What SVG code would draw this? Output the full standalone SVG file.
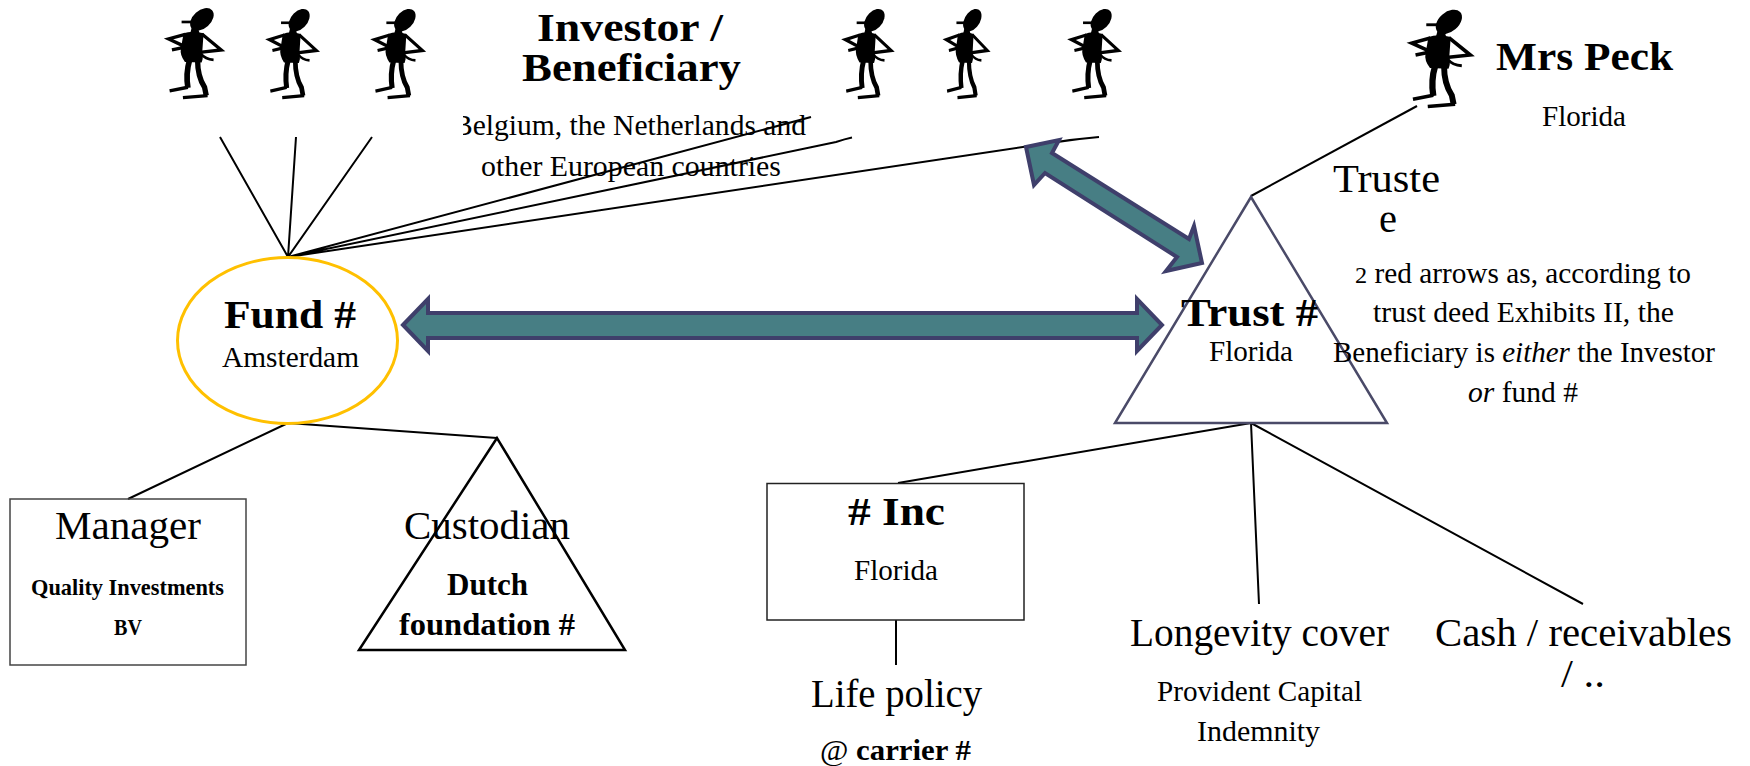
<svg xmlns="http://www.w3.org/2000/svg" xmlns:xlink="http://www.w3.org/1999/xlink" width="1750" height="766" viewBox="0 0 1750 766">
<style>
text{font-family:"Liberation Serif","Times New Roman",serif;fill:#000}
.b{font-weight:bold}
.xl{font-size:41px}
.l{font-size:40px}
.m{font-size:29px}
.mb{font-size:31px;font-weight:bold}
.s{font-size:23px;font-weight:bold}
.c{fill:none;stroke:#000;stroke-width:2}
.arrow{fill:#477E84;stroke:#3F3F6B;stroke-width:4;stroke-linejoin:miter}
</style>
<defs>
<clipPath id="clipBelgium"><rect x="463" y="100" width="360" height="50"/></clipPath>
<filter id="soft" x="-10%" y="-10%" width="120%" height="120%"><feGaussianBlur stdDeviation="1.4"/></filter>
<g id="person" filter="url(#soft)">
<ellipse cx="185" cy="58" rx="41" ry="27" transform="rotate(-42 185 58)" fill="#000"/>
<path d="M124 62H158V70H124Z" fill="#000"/>
<path d="M155 80L172 80L178 100L150 100Z" fill="#000"/>
<path d="M130 100Q155 90 190 100L186 158Q190 175 184 188L134 186Q118 165 122 145Z" fill="#000"/>
<path d="M135 103L85 117L128 137M128 143L95 150" fill="none" stroke="#000" stroke-width="10"/>
<path d="M185 102L243 150L178 157" fill="none" stroke="#000" stroke-width="10"/>
<path d="M182 162Q195 178 220 180" fill="none" stroke="#000" stroke-width="8"/>
<path d="M148 180Q136 220 143 264" fill="none" stroke="#000" stroke-width="17"/>
<path d="M172 180Q172 230 193 262L198 287" fill="none" stroke="#000" stroke-width="16"/>
<path d="M143 262L88 273M202 287L128 293" fill="none" stroke="#000" stroke-width="10"/>
</g>
</defs>
<rect width="1750" height="766" fill="#fff"/>
<g id="node-investors-left">
<use xlink:href="#person" href="#person" transform="translate(140.3 0) scale(.333)"/>
<use xlink:href="#person" href="#person" transform="translate(244.2 1) scale(.297 .33)"/>
<use xlink:href="#person" href="#person" transform="translate(348.8 1) scale(.303 .33)"/>
</g>
<g id="node-investors-right">
<use xlink:href="#person" href="#person" transform="translate(820.7 1) scale(.29 .33)"/>
<use xlink:href="#person" href="#person" transform="translate(924.2 1) scale(.26 .33)"/>
<use xlink:href="#person" href="#person" transform="translate(1046.2 1) scale(.297 .33)"/>
</g>
<g id="node-mrs-peck">
<use xlink:href="#person" href="#person" transform="translate(1380.4 1) scale(.37 .36)"/>
<text class="xl b" x="1496" y="70" textLength="177" lengthAdjust="spacingAndGlyphs">Mrs Peck</text>
<text class="m" x="1542" y="126" textLength="84" lengthAdjust="spacingAndGlyphs">Florida</text>
</g>
<g id="node-investor-label">
<text class="xl b" x="537" y="41" textLength="186" lengthAdjust="spacingAndGlyphs">Investor /</text>
<text class="xl b" x="522" y="81" textLength="219" lengthAdjust="spacingAndGlyphs">Beneficiary</text>
<g clip-path="url(#clipBelgium)"><text class="m" x="453" y="135" textLength="353" lengthAdjust="spacingAndGlyphs">Belgium, the Netherlands and</text></g>
<text class="m" x="481" y="176" textLength="300" lengthAdjust="spacingAndGlyphs">other European countries</text>
</g>
<g id="connectors">
<path class="c" d="M288 257L220 137M288 257L296 137M288 257L372 137"/>
<path class="c" d="M288 257L811 117M288 257L836 142Q845 139 852 137.5M288 257L1050 143Q1075 139 1099 137"/>
<path class="c" d="M288 423L128 499M288 423L497 438"/>
<path class="c" d="M1251 196L1417 106"/>
<path class="c" d="M1251 423L898 483M1251 423L1259 604M1251 423L1583 604"/>
<path class="c" d="M896 620V665" stroke-width="1.5"/>
</g>
<g id="node-arrow-horizontal">
<polygon class="arrow" points="403,325 428,299 428,313 1137,313 1137,299 1162,325 1137,351 1137,338 428,338 428,351"/>
</g>
<g id="node-arrow-diagonal">
<polygon class="arrow" points="1026,147 1059,140 1052,153 1189,239 1194,226 1202,263 1166,271 1177,257 1045,173 1034,185"/>
</g>
<g id="node-fund">
<ellipse cx="287.5" cy="340.5" rx="110" ry="83" fill="none" stroke="#FFC000" stroke-width="3"/>
<text class="xl b" x="224" y="328" textLength="132" lengthAdjust="spacingAndGlyphs">Fund #</text>
<text class="m" x="222" y="367" textLength="137" lengthAdjust="spacingAndGlyphs">Amsterdam</text>
</g>
<g id="node-trust">
<polygon points="1251,197 1115,423 1387,423" fill="none" stroke="#4A4A68" stroke-width="2.5"/>
<text class="xl b" x="1181" y="326" textLength="137" lengthAdjust="spacingAndGlyphs">Trust #</text>
<text class="m" x="1209" y="361" textLength="84" lengthAdjust="spacingAndGlyphs">Florida</text>
</g>
<g id="node-trustee">
<text class="l" x="1333" y="192" textLength="107" lengthAdjust="spacingAndGlyphs">Truste</text>
<text class="l" x="1379" y="232" textLength="18" lengthAdjust="spacingAndGlyphs">e</text>
</g>
<g id="node-note">
<text class="m" x="1355" y="283" textLength="336" lengthAdjust="spacingAndGlyphs"><tspan font-size="24">2</tspan> red arrows as, according to</text>
<text class="m" x="1373" y="322" textLength="301" lengthAdjust="spacingAndGlyphs">trust deed Exhibits II, the</text>
<text class="m" x="1333" y="362" textLength="382" lengthAdjust="spacingAndGlyphs">Beneficiary is <tspan font-style="italic">either</tspan> the Investor</text>
<text class="m" x="1468" y="402" textLength="110" lengthAdjust="spacingAndGlyphs"><tspan font-style="italic">or</tspan> fund #</text>
</g>
<g id="node-manager">
<rect x="10" y="499" width="236" height="166" fill="none" stroke="#444" stroke-width="1.5"/>
<text class="l" x="55" y="539" textLength="146" lengthAdjust="spacingAndGlyphs">Manager</text>
<text class="s" x="31" y="595" textLength="193" lengthAdjust="spacingAndGlyphs">Quality Investments</text>
<text class="s" x="114" y="635" textLength="28" lengthAdjust="spacingAndGlyphs">BV</text>
</g>
<g id="node-custodian">
<polygon points="497,438 359,650 625,650" fill="none" stroke="#000" stroke-width="2.5"/>
<text class="l" x="404" y="539" textLength="166" lengthAdjust="spacingAndGlyphs">Custodian</text>
<text class="mb" x="447" y="595" textLength="81" lengthAdjust="spacingAndGlyphs">Dutch</text>
<text class="mb" x="399" y="635" textLength="176" lengthAdjust="spacingAndGlyphs">foundation #</text>
</g>
<g id="node-inc">
<rect x="767" y="483.5" width="257" height="136.5" fill="none" stroke="#222" stroke-width="1.5"/>
<text class="xl b" x="848" y="525" textLength="97" lengthAdjust="spacingAndGlyphs"># Inc</text>
<text class="m" x="854" y="580" textLength="84" lengthAdjust="spacingAndGlyphs">Florida</text>
</g>
<g id="node-life-policy">
<text class="l" x="811" y="707" textLength="171" lengthAdjust="spacingAndGlyphs">Life policy</text>
<text class="m" x="820" y="760" textLength="151" lengthAdjust="spacingAndGlyphs">@ <tspan class="b">carrier #</tspan></text>
</g>
<g id="node-longevity">
<text class="l" x="1130" y="646" textLength="259" lengthAdjust="spacingAndGlyphs">Longevity cover</text>
<text class="m" x="1157" y="701" textLength="205" lengthAdjust="spacingAndGlyphs">Provident Capital</text>
<text class="m" x="1197" y="741" textLength="123" lengthAdjust="spacingAndGlyphs">Indemnity</text>
</g>
<g id="node-cash">
<text class="l" x="1435" y="646" textLength="297" lengthAdjust="spacingAndGlyphs">Cash / receivables</text>
<text class="l" x="1561" y="687" textLength="44" lengthAdjust="spacingAndGlyphs">/ ..</text>
</g>
</svg>
